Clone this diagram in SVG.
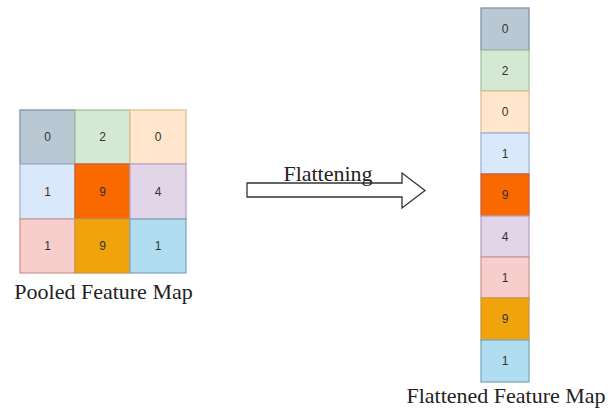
<svg xmlns="http://www.w3.org/2000/svg" width="608" height="412" viewBox="0 0 608 412">
  <style>
    .c { stroke-width: 1.3; }
    .n { font-family: "Liberation Sans", Arial, sans-serif; font-size: 12px; fill: #333; text-anchor: middle; dominant-baseline: central; }
    .lbl { font-family: "Liberation Serif", "Times New Roman", serif; font-size: 22px; fill: #222; text-anchor: middle; }
    .g { fill: #bac8d3; stroke: #7f95a8; }
    .gr { fill: #d5e8d4; stroke: #a3c39f; }
    .pe { fill: #ffe6cc; stroke: #e0bf95; }
    .lb { fill: #dae8fc; stroke: #9fb4d4; }
    .or { fill: #fa6800; stroke: #c8623a; }
    .pu { fill: #e1d5e7; stroke: #b9a5c4; }
    .pk { fill: #f8cecc; stroke: #cc9a98; }
    .am { fill: #f0a30a; stroke: #c79a45; }
    .sk { fill: #b1ddf0; stroke: #7fa9bd; }
  </style>
  <rect width="608" height="412" fill="#ffffff"/>

  <!-- 3x3 pooled map -->
  <g id="pooled-map">
    <rect class="c g" x="20" y="110" width="55" height="54"/><text class="n" x="47.5" y="137">0</text>
    <rect class="c gr" x="75" y="110" width="55" height="54"/><text class="n" x="102.5" y="137">2</text>
    <rect class="c pe" x="130" y="110" width="56" height="54"/><text class="n" x="158" y="137">0</text>
    <rect class="c lb" x="20" y="164" width="55" height="55"/><text class="n" x="47.5" y="191.5">1</text>
    <rect class="c or" x="75" y="164" width="55" height="55"/><text class="n" x="102.5" y="191.5">9</text>
    <rect class="c pu" x="130" y="164" width="56" height="55"/><text class="n" x="158" y="191.5">4</text>
    <rect class="c pk" x="20" y="219" width="55" height="54"/><text class="n" x="47.5" y="246">1</text>
    <rect class="c am" x="75" y="219" width="55" height="54"/><text class="n" x="102.5" y="246">9</text>
    <rect class="c sk" x="130" y="219" width="56" height="54"/><text class="n" x="158" y="246">1</text>
  </g>
  <g id="pooled-label"><text class="lbl" x="103.5" y="299">Pooled Feature Map</text></g>

  <!-- flattening arrow -->
  <g id="connectors">
    <path d="M247 183 H402 V173 L425 190.5 L402 208 V197 H247 Z" fill="#ffffff" stroke="#333" stroke-width="1.3"/>
    <text class="lbl" x="328" y="181">Flattening</text>
  </g>

  <!-- flattened column -->
  <g id="flattened-map">
    <rect class="c g" x="481" y="8" width="48" height="42"/><text class="n" x="505" y="29">0</text>
    <rect class="c gr" x="481" y="50" width="48" height="41"/><text class="n" x="505" y="70.5">2</text>
    <rect class="c pe" x="481" y="91" width="48" height="42"/><text class="n" x="505" y="112">0</text>
    <rect class="c lb" x="481" y="133" width="48" height="41"/><text class="n" x="505" y="153.5">1</text>
    <rect class="c or" x="481" y="174" width="48" height="42"/><text class="n" x="505" y="195">9</text>
    <rect class="c pu" x="481" y="216" width="48" height="41"/><text class="n" x="505" y="236.5">4</text>
    <rect class="c pk" x="481" y="257" width="48" height="41"/><text class="n" x="505" y="277.5">1</text>
    <rect class="c am" x="481" y="298" width="48" height="42"/><text class="n" x="505" y="319">9</text>
    <rect class="c sk" x="481" y="340" width="48" height="42"/><text class="n" x="505" y="361">1</text>
  </g>
  <g id="flattened-label"><text class="lbl" x="506" y="403">Flattened Feature Map</text></g>
</svg>
